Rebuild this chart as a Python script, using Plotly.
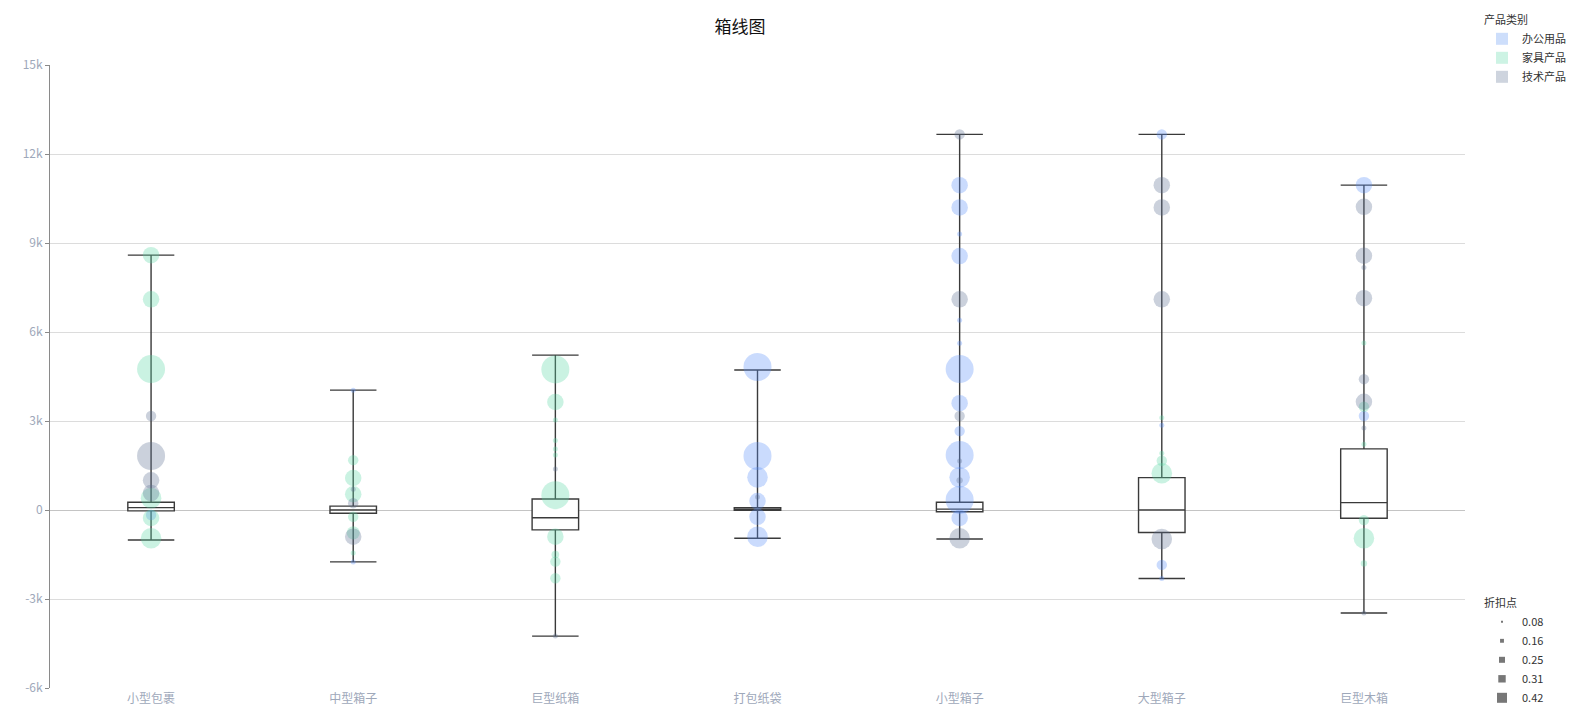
import plotly.graph_objects as go

# ---------------- data ----------------
categories = ["小型包裹", "中型箱子", "巨型纸箱", "打包纸袋", "小型箱子", "大型箱子", "巨型木箱"]

# box statistics (profit)
box_lower = [-1010, -1750, -4250, -950, -980, -2310, -3470]
box_q1 = [-30, -110, -670, -10, -60, -760, -280]
box_median = [80, 0, -260, 30, 30, 0, 250]
box_q3 = [260, 130, 370, 80, 260, 1090, 2060]
box_upper = [8590, 4040, 5220, 4720, 12660, 12660, 10950]

# scatter points per product type: category index, profit, discount
office_cat = [0, 1, 1, 3, 3, 3, 3, 3, 3, 4, 4, 4, 4, 4, 4, 4, 4, 4, 4, 4, 4, 4, 5, 5, 5, 5, 6, 6]
office_val = [-170, 4040, -1750, 4820, 1820, 1100, 300, -230, -900,
              10950, 10200, 9300, 8560, 6400, 5620, 4750, 3600, 2660, 1850, 1100, 340, -270,
              12660, 2860, -1850, -2310, 10950, 3170]
office_disc = [0.16, 0.08, 0.08, 0.42, 0.42, 0.31, 0.25, 0.25, 0.31,
               0.25, 0.25, 0.08, 0.25, 0.08, 0.08, 0.42, 0.25, 0.16, 0.42, 0.31, 0.42, 0.25,
               0.16, 0.08, 0.16, 0.08, 0.25, 0.16]

furniture_cat = [0, 0, 0, 0, 0, 0, 1, 1, 1, 1, 1, 1, 2, 2, 2, 2, 2, 2, 2, 2, 2, 2, 2,
                 5, 5, 5, 5, 6, 6, 6, 6, 6, 6]
furniture_val = [8590, 7100, 4750, 400, -270, -950,
                 1680, 1080, 530, -230, -770, -1450,
                 4740, 3640, 3030, 2340, 2060, 1850, 500, -900, -1500, -1740, -2300,
                 3110, 1910, 1660, 1240,
                 5630, 3480, 2220, -340, -950, -1800]
furniture_disc = [0.25, 0.25, 0.42, 0.31, 0.25, 0.31,
                  0.16, 0.25, 0.25, 0.16, 0.2, 0.08,
                  0.42, 0.25, 0.08, 0.08, 0.08, 0.08, 0.42, 0.25, 0.12, 0.16, 0.16,
                  0.08, 0.08, 0.16, 0.31,
                  0.08, 0.16, 0.08, 0.16, 0.31, 0.1]

tech_cat = [0, 0, 0, 0, 1, 1, 1, 2, 2, 3, 4, 4, 4, 4, 4, 4, 5, 5, 5, 5, 6, 6, 6, 6, 6, 6, 6, 6]
tech_val = [3170, 1820, 1000, 570, 700, 230, -900, 1380, -4250, 440,
            12660, 7100, 3170, 1650, 1000, -950,
            10950, 10200, 7100, -980,
            10220, 8570, 8170, 7140, 4410, 3650, 2760, -3470]
tech_disc = [0.16, 0.42, 0.25, 0.25, 0.08, 0.16, 0.25, 0.08, 0.08, 0.08,
             0.16, 0.25, 0.16, 0.08, 0.1, 0.31,
             0.25, 0.25, 0.25, 0.31,
             0.25, 0.25, 0.08, 0.25, 0.16, 0.25, 0.08, 0.08]

type_names = ["办公用品", "家具产品", "技术产品"]
type_colors = ["#5B8FF9", "#5AD8A6", "#5D7092"]
legend_swatch = ["#cddefb", "#cdf3e4", "#ced4de"]

discount_ticks = [0.08, 0.16, 0.25, 0.31, 0.42]
discount_labels = ["0.08", "0.16", "0.25", "0.31", "0.42"]

y_ticks = [-6000, -3000, 0, 3000, 6000, 9000, 12000, 15000]
y_tick_labels = ["-6k", "-3k", "0", "3k", "6k", "9k", "12k", "15k"]

FONT = "Noto Sans CJK SC, Noto Sans, sans-serif"


def disc_size(d):
    return 5 + (d - 0.08) / (0.42 - 0.08) * 23


fig = go.Figure()

series = [(office_cat, office_val, office_disc), (furniture_cat, furniture_val, furniture_disc),
          (tech_cat, tech_val, tech_disc)]
for (cidx, vals, discs), name, col in zip(series, type_names, type_colors):
    fig.add_trace(go.Scatter(
        x=[categories[i] for i in cidx], y=vals, mode="markers", name=name,
        marker=dict(size=[disc_size(d) for d in discs], sizemode="diameter", color=col,
                    opacity=0.32, line=dict(width=0)),
        showlegend=False, hoverinfo="x+y"))

fig.add_trace(go.Box(
    x=categories, q1=box_q1, median=box_median, q3=box_q3,
    lowerfence=box_lower, upperfence=box_upper, boxpoints=False,
    fillcolor="white", line=dict(color="#3a3a3a", width=1.4),
    whiskerwidth=1, width=0.23, showlegend=False, name="box"))

# legend 1: product type
for name, sw in zip(type_names, legend_swatch):
    fig.add_trace(go.Scatter(x=[None], y=[None], mode="markers", name=name,
                             marker=dict(symbol="square", size=13, color=sw),
                             legend="legend", showlegend=True))

# legend 2: discount size
for d, lab in zip(discount_ticks, discount_labels):
    fig.add_trace(go.Scatter(x=[None], y=[None], mode="markers", name=lab,
                             marker=dict(symbol="square", size=2 + (d - 0.08) / 0.34 * 8,
                                         color="#777777"),
                             legend="legend2", showlegend=True))

fig.update_layout(
    width=1595, height=715,
    margin=dict(l=50, r=130, t=65, b=27, autoexpand=False),
    paper_bgcolor="white", plot_bgcolor="white",
    font=dict(family=FONT, size=12, color="#333"),
    title=dict(text="箱线图", x=0.4876, xref="paper", y=1 - 27 / 715, yanchor="middle",
               xanchor="center", font=dict(size=17, color="#111", family=FONT)),
    xaxis=dict(type="category", categoryorder="array", categoryarray=categories,
               range=[-0.5, 6.5], automargin=False,
               showgrid=False, zeroline=False, showline=False, ticks="",
               tickfont=dict(size=12, color="#9ea8ba", family=FONT), ticklabelstandoff=2),
    yaxis=dict(range=[-6000, 15000], tickvals=y_ticks, ticktext=y_tick_labels,
               automargin=False,
               showgrid=True, gridcolor="#dcdcdc", gridwidth=1,
               zeroline=True, zerolinecolor="#c4c4c4", zerolinewidth=1,
               showline=True, linecolor="#8a8a8a", linewidth=1,
               ticks="outside", ticklen=4, tickcolor="#8a8a8a",
               tickfont=dict(size=12, color="#9ea8ba", family=FONT)),
    legend=dict(title=dict(text="产品类别", font=dict(size=11, color="#333")),
                x=(1482 - 50) / 1415, xanchor="left", yref="container",
                y=1 - 10 / 715, yanchor="top",
                font=dict(size=11, color="#333", family=FONT), itemsizing="constant",
                itemwidth=30, bgcolor="rgba(0,0,0,0)"),
    legend2=dict(title=dict(text="折扣点", font=dict(size=11, color="#333")),
                 x=(1482 - 50) / 1415, xanchor="left", yref="container",
                 y=2 / 715, yanchor="bottom",
                 font=dict(size=11, color="#333", family=FONT), itemsizing="trace",
                 itemwidth=30, bgcolor="rgba(0,0,0,0)"),
    showlegend=True,
)

fig.write_html("out.html")
